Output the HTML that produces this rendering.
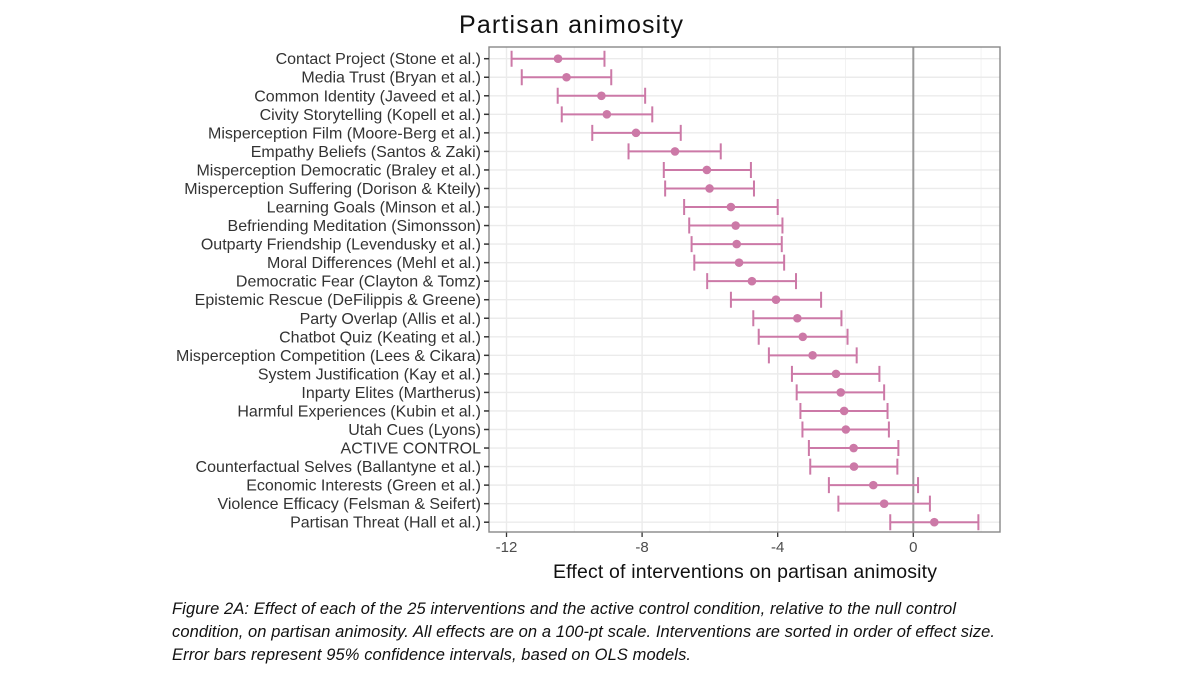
<!DOCTYPE html>
<html><head><meta charset="utf-8"><style>
body{margin:0;background:#fff;width:1200px;height:675px;overflow:hidden;font-family:"Liberation Sans",sans-serif}
</style></head><body>
<svg width="1200" height="675" xmlns="http://www.w3.org/2000/svg" font-family="Liberation Sans, sans-serif">
<text x="571" y="33" font-size="25" text-anchor="middle" fill="#111" textLength="224">Partisan animosity</text>
<g id="plot"></g>
<text x="745" y="578" font-size="19.5" text-anchor="middle" fill="#111" textLength="384">Effect of interventions on partisan animosity</text>
<g font-size="16.5" font-style="italic" fill="#111">
<text x="172" y="614" textLength="784">Figure 2A: Effect of each of the 25 interventions and the active control condition, relative to the null control</text>
<text x="172" y="637" textLength="823">condition, on partisan animosity. All effects are on a 100-pt scale. Interventions are sorted in order of effect size.</text>
<text x="172" y="660" textLength="519">Error bars represent 95% confidence intervals, based on OLS models.</text>
</g>
</svg>
<script>
const categories=["Contact Project (Stone et al.)","Media Trust (Bryan et al.)","Common Identity (Javeed et al.)","Civity Storytelling (Kopell et al.)","Misperception Film (Moore-Berg et al.)","Empathy Beliefs (Santos & Zaki)","Misperception Democratic (Braley et al.)","Misperception Suffering (Dorison & Kteily)","Learning Goals (Minson et al.)","Befriending Meditation (Simonsson)","Outparty Friendship (Levendusky et al.)","Moral Differences (Mehl et al.)","Democratic Fear (Clayton & Tomz)","Epistemic Rescue (DeFilippis & Greene)","Party Overlap (Allis et al.)","Chatbot Quiz (Keating et al.)","Misperception Competition (Lees & Cikara)","System Justification (Kay et al.)","Inparty Elites (Martherus)","Harmful Experiences (Kubin et al.)","Utah Cues (Lyons)","ACTIVE CONTROL","Counterfactual Selves (Ballantyne et al.)","Economic Interests (Green et al.)","Violence Efficacy (Felsman & Seifert)","Partisan Threat (Hall et al.)"];
const estimates=[-10.48,-10.23,-9.20,-9.04,-8.18,-7.03,-6.09,-6.01,-5.38,-5.24,-5.21,-5.14,-4.76,-4.05,-3.42,-3.26,-2.97,-2.28,-2.14,-2.04,-1.99,-1.76,-1.75,-1.18,-0.86,0.62];
const lower=[-11.85,-11.55,-10.49,-10.37,-9.47,-8.40,-7.36,-7.32,-6.76,-6.61,-6.54,-6.46,-6.08,-5.38,-4.72,-4.56,-4.26,-3.58,-3.44,-3.33,-3.27,-3.08,-3.04,-2.49,-2.21,-0.68];
const upper=[-9.11,-8.91,-7.91,-7.70,-6.86,-5.68,-4.79,-4.70,-4.00,-3.86,-3.88,-3.81,-3.46,-2.72,-2.12,-1.94,-1.67,-1.00,-0.86,-0.76,-0.72,-0.44,-0.47,0.14,0.49,1.92];
const majorTicks=[-12,-8,-4,0];
const minorTicks=[-10,-6,-2,2];

const NS="http://www.w3.org/2000/svg";
const g=document.getElementById('plot');
const L=489,R=1000,T=47,B=532;
const x=v=>913.3+33.9*v;
const y=i=>58.7+i*18.54;
function mk(tag,a){const e=document.createElementNS(NS,tag);for(const k in a)e.setAttribute(k,a[k]);g.appendChild(e);return e;}
let e=mk('rect',{x:L,y:T,width:R-L,height:B-T,fill:'#fff'});


minorTicks.forEach(v=>{const l=mk('line',{x1:x(v),x2:x(v),y1:T,y2:B,stroke:'#f2f2f2','stroke-width':1});

});
categories.forEach((c,i)=>{const l=mk('line',{x1:L,x2:R,y1:y(i),y2:y(i),stroke:'#ebebeb','stroke-width':1.4});

});
majorTicks.forEach(v=>{const l=mk('line',{x1:x(v),x2:x(v),y1:T,y2:B,stroke:v===0?'#999':'#ebebeb','stroke-width':v===0?2:1.4});


const t=mk('line',{x1:x(v),x2:x(v),y1:B,y2:B+5,stroke:'#333','stroke-width':1.3});


const tx=mk('text',{x:x(v),y:B+20,'font-size':15,'text-anchor':'middle',fill:'#4d4d4d'});tx.textContent=v;

});
e=mk('rect',{x:L,y:T,width:R-L,height:B-T,fill:'none',stroke:'#888','stroke-width':1.4});


const col='#cc79a7';
categories.forEach((c,i)=>{
 const yy=y(i);
 const t=mk('line',{x1:L-5,x2:L,y1:yy,y2:yy,stroke:'#333','stroke-width':1.5});
 
 
 const tx=mk('text',{x:L-8,y:yy+5.5,'font-size':16,'text-anchor':'end',fill:'#333'});tx.textContent=c;
 
 
 const eb=mk('path',{d:`M${x(lower[i])},${yy}H${x(upper[i])}M${x(lower[i])},${yy-8}V${yy+8}M${x(upper[i])},${yy-8}V${yy+8}`,stroke:col,'stroke-width':2,fill:'none'});
 
 
 const p=mk('circle',{cx:x(estimates[i]),cy:yy,r:4.3,fill:col});
 
 
});
</script>
</body></html>
